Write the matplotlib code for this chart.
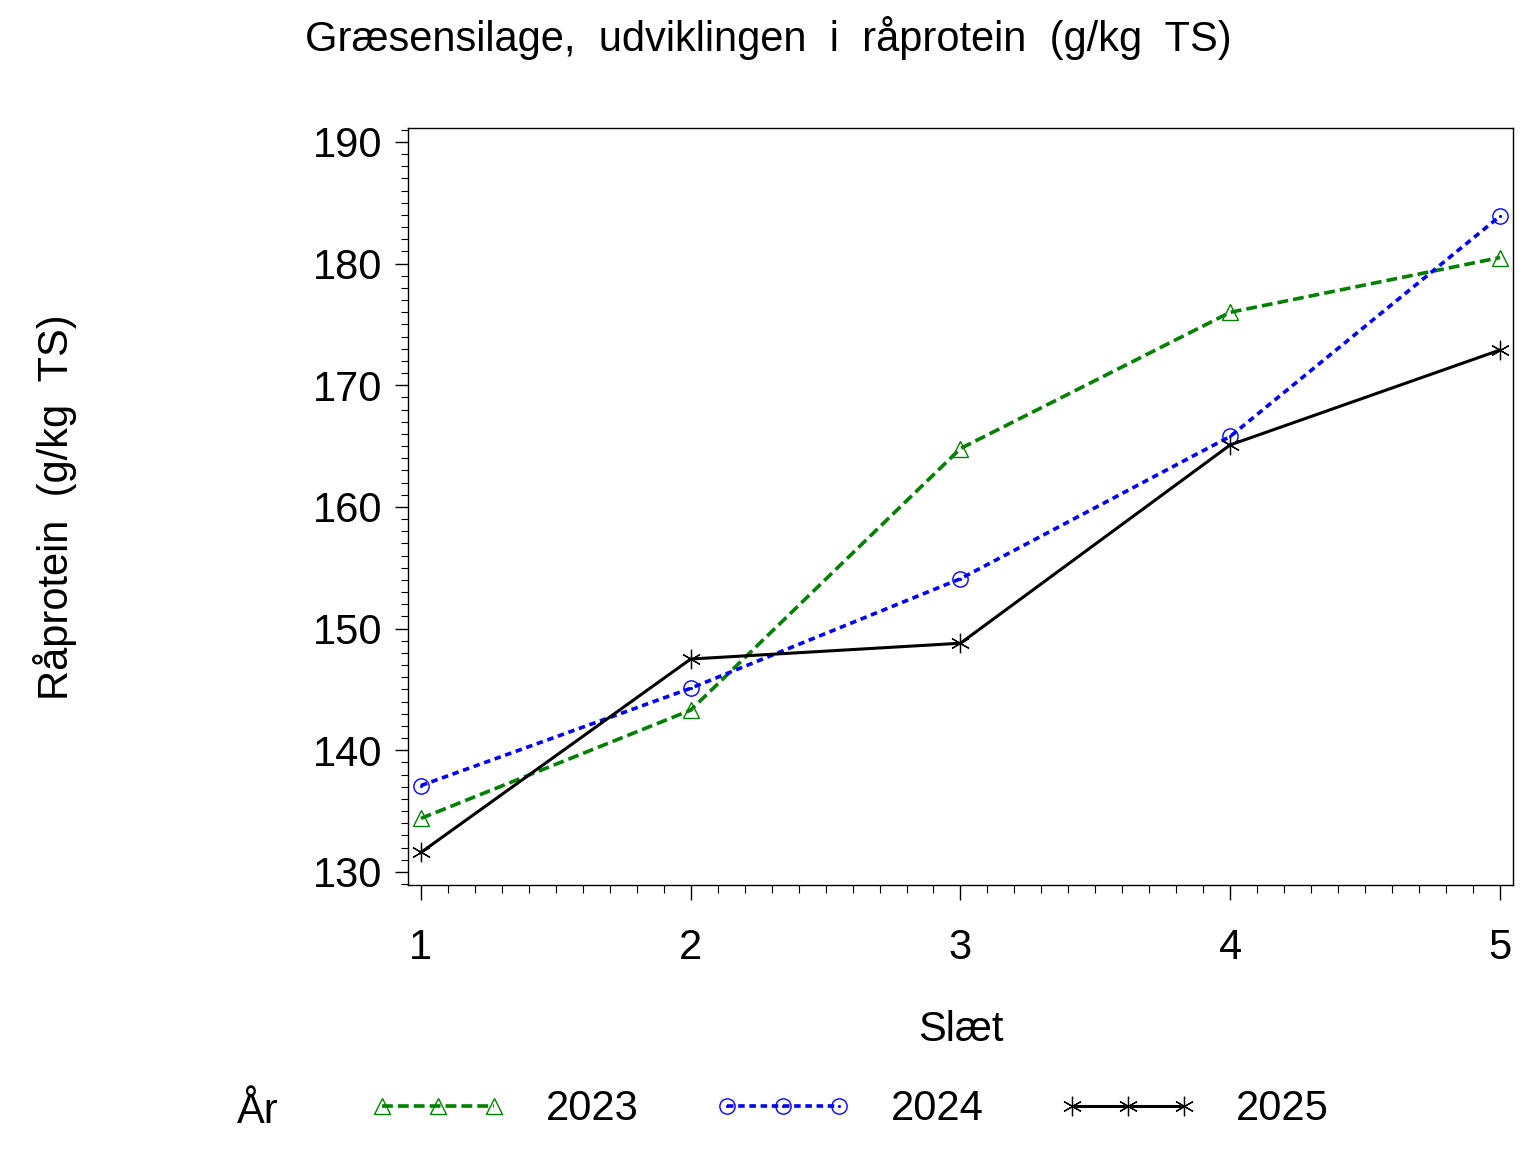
import matplotlib
matplotlib.use("Agg")
import matplotlib.pyplot as plt
from matplotlib.ticker import MultipleLocator
from matplotlib.legend_handler import HandlerTuple

plt.rcParams['font.family'] = ['Liberation Sans', 'DejaVu Sans']

# --- data ---
slaet = [1, 2, 3, 4, 5]
y2023 = [134.4, 143.3, 164.8, 176.0, 180.5]
y2024 = [137.1, 145.1, 154.1, 165.8, 183.9]
y2025 = [131.6, 147.5, 148.8, 165.1, 172.9]
years = ['2023', '2024', '2025']

fig = plt.figure(figsize=(15.36, 11.52), dpi=100)
ax = fig.add_axes([0.2656, 0.2318, 0.985 - 0.2656, 0.8889 - 0.2318])

styles = [
    dict(color='green', dashes=(3.0, 1.4), marker='^', mfc='none', mec='green', ms=12, mew=1.0),
    dict(color='blue', dashes=(1.8, 1.3), marker='o', mfc='none', mec='blue', ms=11, mew=1.0),
    dict(color='black', linestyle='-', marker=(6, 2, 0), mec='black', ms=14, mew=0.9),
]
lws = [2.6, 2.6, 2.2]

handles = []
for vals, st, lw, lab in zip([y2023, y2024, y2025], styles, lws, years):
    line, = ax.plot(slaet, vals, lw=lw, label=lab, **st)
    handles.append(line)
# small centre dot for the 2024 circles
dots, = ax.plot(slaet, y2024, linestyle='none', marker='.', ms=2.5, color='blue')
handles[1] = (handles[1], dots)

ax.set_xlim(0.952, 5.048)
ax.set_ylim(128.93, 191.15)
ax.xaxis.set_major_locator(MultipleLocator(1))
ax.xaxis.set_minor_locator(MultipleLocator(0.1))
ax.yaxis.set_major_locator(MultipleLocator(10))
ax.yaxis.set_minor_locator(MultipleLocator(1))

ax.tick_params(axis='both', which='major', labelsize=30, width=1.0, direction='out')
ax.tick_params(axis='x', which='major', length=11, pad=20)
ax.tick_params(axis='y', which='major', length=9.5, pad=9)
ax.tick_params(axis='x', which='minor', length=5.5, width=0.8)
ax.tick_params(axis='y', which='minor', length=5, width=0.8)
for sp in ax.spines.values():
    sp.set_linewidth(1.0)

fig.text(0.5, 0.967, 'Græsensilage,  udviklingen  i  råprotein  (g/kg  TS)',
         ha='center', va='center', fontsize=30)
ax.set_xlabel('Slæt', fontsize=30, labelpad=30)
fig.text(0.036, 0.56, 'Råprotein  (g/kg  TS)', rotation=90,
         ha='center', va='center', fontsize=30)

# legend
fig.text(0.168, 0.035, 'År', ha='center', va='center', fontsize=30)
leg = fig.legend(handles=handles, labels=years, loc='center left',
                 bbox_to_anchor=(0.216, 0.037), ncol=3, frameon=False,
                 fontsize=30, numpoints=3, handlelength=3.3,
                 handletextpad=0.95, columnspacing=1.8,
                 handler_map={tuple: HandlerTuple(ndivide=1)})

fig.savefig('out.png', dpi=100)
